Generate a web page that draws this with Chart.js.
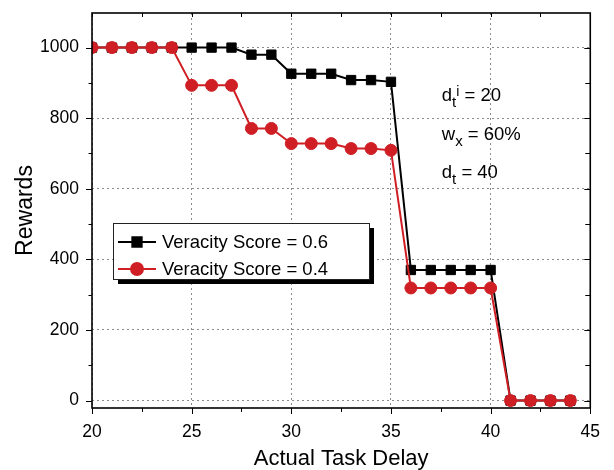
<!DOCTYPE html>
<html>
<head>
<meta charset="utf-8">
<script src="https://cdn.jsdelivr.net/npm/chart.js@4.4.0/dist/chart.umd.min.js"></script>
<style>
  html, body { margin: 0; padding: 0; background: #fff; }
</style>
</head>
<body>
<canvas id="chart" width="614" height="470"></canvas>
<script>
const delays = [20, 21, 22, 23, 24, 25, 26, 27, 28, 29, 30, 31, 32, 33, 34, 35, 36, 37, 38, 39, 40, 41, 42, 43, 44];
const score06 = [1000, 1000, 1000, 1000, 1000, 1000, 1000, 1000, 980, 980, 926, 926, 926, 908, 908, 903, 370, 370, 370, 370, 370, 0, 0, 0, 0];
const score04 = [1000, 1000, 1000, 1000, 1000, 893, 893, 893, 771, 771, 728, 728, 728, 714, 714, 709, 319, 319, 319, 319, 319, 0, 0, 0, 0];
const seriesLabels = ["Veracity Score = 0.6", "Veracity Score = 0.4"];
const xTicks = [20, 25, 30, 35, 40, 45];
const yTicks = [0, 200, 400, 600, 800, 1000];
const xMinor = [22.5, 27.5, 32.5, 37.5, 42.5];
const yMinor = [100, 300, 500, 700, 900];

const FONT = "'Liberation Sans', Arial, Helvetica, sans-serif";
const RED = "#cf1f25";

// box, tick marks (out on left/bottom, in on top/right)
const frame = {
  id: "frame",
  afterDatasetsDraw(chart) {
    const { ctx, chartArea: a, scales: { x, y } } = chart;
    ctx.save();
    ctx.strokeStyle = "#000";
    ctx.lineWidth = 1;
    ctx.beginPath();
    const vx = (v, down, up) => {
      const p = Math.round(x.getPixelForValue(v)) + 0.5;
      ctx.moveTo(p, a.bottom); ctx.lineTo(p, a.bottom + down);
      ctx.moveTo(p, a.top); ctx.lineTo(p, a.top + up);
    };
    const vy = (v, out, inn) => {
      const p = Math.round(y.getPixelForValue(v)) + 0.5;
      ctx.moveTo(a.left, p); ctx.lineTo(a.left - out, p);
      ctx.moveTo(a.right, p); ctx.lineTo(a.right - inn, p);
    };
    xTicks.forEach(v => vx(v, 6, 4));
    xMinor.forEach(v => vx(v, 4, 4));
    yTicks.forEach(v => vy(v, 6, 6));
    yMinor.forEach(v => vy(v, 3.5, 5));
    ctx.stroke();
    ctx.lineWidth = 1.6;
    ctx.strokeRect(a.left, a.top, a.right - a.left, a.bottom - a.top);
    ctx.restore();
  }
};

const legendBox = {
  id: "legendBox",
  afterDraw(chart) {
    const { ctx } = chart;
    const bx = 113, by = 223, bw = 256, bh = 56;
    ctx.save();
    ctx.fillStyle = "#000";
    ctx.fillRect(bx + 5, by + 5, bw, bh);
    ctx.fillStyle = "#fff";
    ctx.fillRect(bx, by, bw, bh);
    ctx.strokeStyle = "#222";
    ctx.lineWidth = 1;
    ctx.strokeRect(bx + 0.5, by + 0.5, bw, bh);
    chart.data.datasets.forEach((ds, i) => {
      const cy = by + 19 + i * 27;
      ctx.strokeStyle = ds.borderColor;
      ctx.lineWidth = 2;
      ctx.beginPath();
      ctx.moveTo(bx + 5, cy);
      ctx.lineTo(bx + 43, cy);
      ctx.stroke();
      ctx.fillStyle = ds.backgroundColor;
      Chart.helpers.drawPoint(ctx, {
        pointStyle: ds.pointStyle, radius: ds.pointRadius, rotation: 0, borderWidth: 1
      }, bx + 24, cy);
      ctx.fillStyle = "#000";
      ctx.font = "18.5px " + FONT;
      ctx.textBaseline = "middle";
      ctx.fillText(ds.label, bx + 49, cy + 1);
    });
    ctx.restore();
  }
};

// parameter notes with sub/superscripts
const notes = {
  id: "notes",
  afterDraw(chart) {
    const { ctx, scales: { x, y } } = chart;
    const lines = [
      { base: "d", sub: "t", sup: "i", rest: " = 20", v: 849 },
      { base: "w", sub: "x", sup: "", rest: " = 60%", v: 739 },
      { base: "d", sub: "t", sup: "", rest: " = 40", v: 631 }
    ];
    ctx.save();
    ctx.fillStyle = "#000";
    ctx.textBaseline = "alphabetic";
    lines.forEach(l => {
      let px = x.getPixelForValue(37.55);
      const py = y.getPixelForValue(l.v);
      ctx.font = "18.5px " + FONT;
      ctx.fillText(l.base, px, py);
      px += ctx.measureText(l.base).width;
      ctx.font = "15px " + FONT;
      ctx.fillText(l.sub, px, py + 6);
      px += ctx.measureText(l.sub).width;
      if (l.sup) {
        ctx.font = "14px " + FONT;
        ctx.fillText(l.sup, px, py - 5);
        px += ctx.measureText(l.sup).width;
      }
      ctx.font = "18.5px " + FONT;
      ctx.fillText(l.rest, px, py);
    });
    ctx.restore();
  }
};

new Chart(document.getElementById("chart"), {
  type: "line",
  data: {
    datasets: [
      {
        label: seriesLabels[0],
        data: delays.map((d, i) => ({ x: d, y: score06[i] })),
        borderColor: "#000",
        backgroundColor: "#000",
        borderWidth: 2,
        pointStyle: "rect",
        pointRadius: 6.6,
        pointBorderWidth: 1,
        order: 1
      },
      {
        label: seriesLabels[1],
        data: delays.map((d, i) => ({ x: d, y: score04[i] })),
        borderColor: RED,
        backgroundColor: RED,
        borderWidth: 2,
        pointStyle: "circle",
        pointRadius: 6,
        pointBorderWidth: 1,
        order: 0
      }
    ]
  },
  options: {
    responsive: false,
    animation: false,
    devicePixelRatio: 1,
    layout: { padding: { left: 0, right: 23, top: 13, bottom: 0 } },
    plugins: { legend: { display: false }, tooltip: { enabled: false } },
    scales: {
      x: {
        type: "linear",
        min: 20,
        max: 45,
        afterFit: s => { s.height = 62; },
        afterBuildTicks: s => { s.ticks = xTicks.map(v => ({ value: v })); },
        grid: { color: "#8c8c8c", lineWidth: 1, drawTicks: false },
        border: { display: false, dash: [2, 3] },
        ticks: { color: "#000", font: { family: FONT, size: 17.5 }, padding: 14, maxRotation: 0, callback: v => String(v) },
        title: { display: true, text: "Actual Task Delay", color: "#000", font: { family: FONT, size: 22, lineHeight: 1 }, padding: 0 }
      },
      y: {
        type: "linear",
        min: -21,
        max: 1098,
        afterFit: s => { s.width = 92; s.paddingTop = 0; s.paddingBottom = 0; },
        afterBuildTicks: s => { s.ticks = yTicks.map(v => ({ value: v })); },
        grid: { color: "#8c8c8c", lineWidth: 1, drawTicks: false },
        border: { display: false, dash: [2, 3] },
        ticks: { color: "#000", font: { family: FONT, size: 17.5 }, padding: 13, callback: v => String(v) },
        title: { display: true, text: "Rewards", color: "#000", font: { family: FONT, size: 23, lineHeight: 1 }, padding: { top: 14 } }
      }
    }
  },
  plugins: [frame, legendBox, notes]
});
</script>
</body>
</html>
